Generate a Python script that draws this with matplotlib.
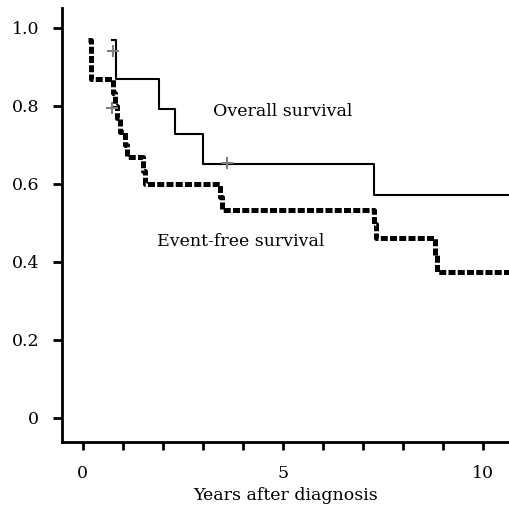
import numpy as np
import matplotlib
matplotlib.use('Agg')
import matplotlib.pyplot as plt

# Kaplan-Meier style step curves
os_t = [0.72, 0.82, 1.91, 2.30, 3.01, 7.29, 10.7]
os_s = [0.967, 0.867, 0.792, 0.726, 0.651, 0.570, 0.570]

efs_t = [0.13, 0.20, 0.75, 0.80, 0.85, 0.92, 1.05, 1.10, 1.50, 1.55,
         3.43, 3.48, 7.28, 7.33, 8.80, 8.85, 10.7]
efs_s = [0.967, 0.867, 0.833, 0.800, 0.767, 0.733, 0.700, 0.667, 0.633, 0.600,
         0.567, 0.533, 0.497, 0.460, 0.418, 0.374, 0.374]

# censored marks (gray crosses)
cens_t = [0.76, 3.60, 0.72]
cens_s = [0.940, 0.653, 0.795]

xticks = list(range(0, 11))
xlabels = ['0', '', '', '', '', '5', '', '', '', '', '10']
yticks = [0, 0.2, 0.4, 0.6, 0.8, 1.0]
ylabels = ['0', '0.2', '0.4', '0.6', '0.8', '1.0']

plt.rcParams['font.family'] = ['DejaVu Serif']

fig = plt.figure(figsize=(5.09, 5.16), dpi=100)
ax = fig.add_axes([0.1218, 0.1434, 0.8782, 0.8411])

ax.step(os_t, os_s, where='post', color='black', lw=1.5)
ax.step(efs_t, efs_s, where='post', color='black', lw=3.6, dashes=(1.4, 0.45))
ax.plot(cens_t, cens_s, '+', color='#808080', ms=8, mew=1.5)

ax.text(3.26, 0.785, 'Overall survival', fontsize=12.5, va='center', ha='left')
ax.text(1.86, 0.451, 'Event-free survival', fontsize=12.5, va='center', ha='left')

ax.set_xlim(-0.52, 10.66)
ax.set_ylim(-0.062, 1.05)
ax.set_xticks(xticks)
ax.set_xticklabels(xlabels)
ax.set_yticks(yticks)
ax.set_yticklabels(ylabels)
ax.tick_params(axis='x', direction='out', length=5.5, width=2, pad=11, labelsize=12.5)
ax.tick_params(axis='y', direction='out', length=6.5, width=2, pad=10, labelsize=12.5)
ax.set_xlabel('Years after diagnosis', fontsize=12.5, labelpad=4)

for s in ['top', 'right']:
    ax.spines[s].set_visible(False)
for s in ['left', 'bottom']:
    ax.spines[s].set_linewidth(2)

plt.savefig('out.png', dpi=100)
